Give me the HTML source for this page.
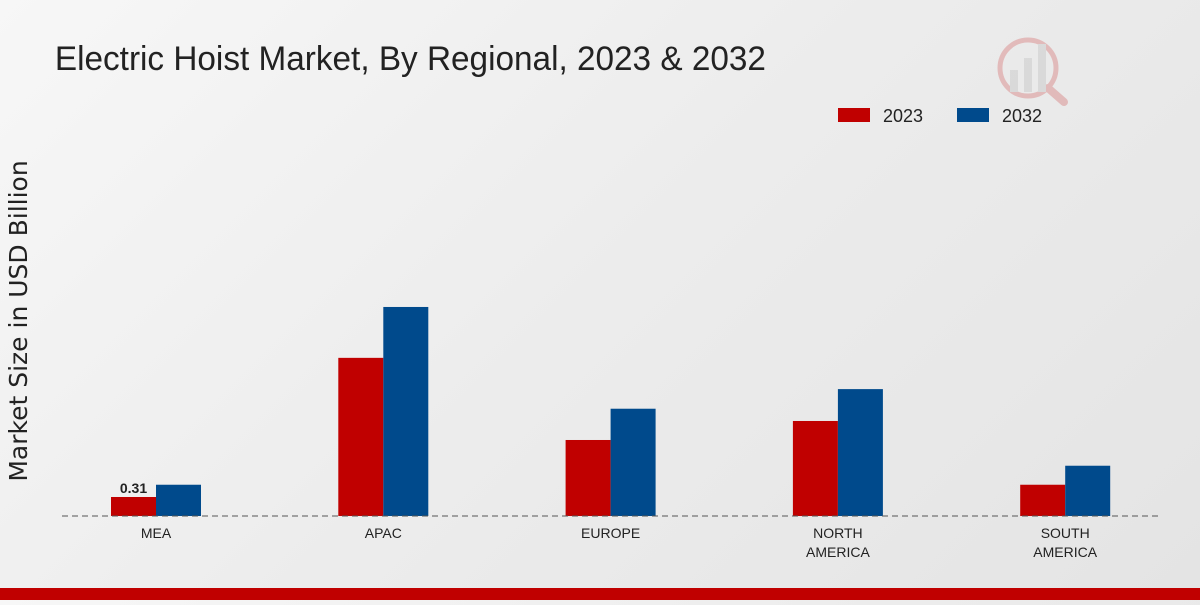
<!DOCTYPE html>
<html><head><meta charset="utf-8">
<style>
html,body{margin:0;padding:0;}
body{width:1200px;height:600px;overflow:hidden;background:linear-gradient(135deg,#f7f7f7 0%,#ececec 50%,#e4e4e4 100%);font-family:"Liberation Sans",sans-serif;}
</style></head>
<body>
<svg id="chart" width="1200" height="600" xmlns="http://www.w3.org/2000/svg">
  <text x="56" y="70" font-size="34" fill="#222" transform="scale(0.98,1)" style="font-family:'Liberation Sans',sans-serif">Electric Hoist Market, By Regional, 2023 &amp; 2032</text>
  <text transform="translate(27,321) rotate(-90)" text-anchor="middle" font-size="25" fill="#222" style="font-family:'DejaVu Sans',sans-serif">Market Size in USD Billion</text>
  <g>
    <g>
      <rect x="838" y="108" width="32" height="14" fill="#c00000"/>
      <text x="883" y="122" font-size="18" fill="#222">2023</text>
    </g>
    <g>
      <rect x="957" y="108" width="32" height="14" fill="#004a8c"/>
      <text x="1002" y="122" font-size="18" fill="#222">2032</text>
    </g>
  </g>
  <g id="bars"></g>
  <line x1="62" y1="516" x2="1160" y2="516" stroke="#555" stroke-width="1" stroke-dasharray="6,4"/>
  <g id="xlabels"></g>
  <g opacity="0.2">
    <circle cx="1028" cy="68" r="28" fill="none" stroke="#c00000" stroke-width="5"/>
    <line x1="1048" y1="88" x2="1064" y2="102" stroke="#c00000" stroke-width="8" stroke-linecap="round"/>
    <rect x="1010" y="70" width="8" height="22" fill="#999"/>
    <rect x="1024" y="58" width="8" height="34" fill="#999"/>
    <rect x="1038" y="44" width="8" height="48" fill="#999"/>
  </g>
  <rect x="0" y="588" width="1200" height="12" fill="#c00000"/>
</svg>
<script>
const categories = ["MEA","APAC","EUROPE","NORTH\nAMERICA","SOUTH\nAMERICA"];
const values2023 = [0.31,2.58,1.24,1.55,0.51];
const values2032 = [0.51,3.41,1.75,2.07,0.82];
const labeledValue = "0.31";

const baseY = 516, pxPerUnit = 61.3, x0 = 156, step = 227.3, bw = 45;
const yScale = v => baseY - v * pxPerUnit;
const xCenter = i => x0 + i * step;
const NS = "http://www.w3.org/2000/svg";
const bars = document.getElementById("bars");
const xl = document.getElementById("xlabels");

categories.forEach((c, i) => {
  const cx = xCenter(i);
  const r = document.createElementNS(NS, "rect");
  r.setAttribute("x", cx - bw); r.setAttribute("width", bw);
  r.setAttribute("y", yScale(values2023[i])); r.setAttribute("height", baseY - yScale(values2023[i]));
  r.setAttribute("fill", "#c00000");
  
  
  bars.appendChild(r);
  const b = document.createElementNS(NS, "rect");
  b.setAttribute("x", cx); b.setAttribute("width", bw);
  b.setAttribute("y", yScale(values2032[i])); b.setAttribute("height", baseY - yScale(values2032[i]));
  b.setAttribute("fill", "#004a8c");
  
  
  bars.appendChild(b);
  const t = document.createElementNS(NS, "text");
  t.setAttribute("text-anchor", "middle"); t.setAttribute("font-size", "14"); t.setAttribute("fill", "#222");
  c.split("\n").forEach((line, k) => {
    const ts = document.createElementNS(NS, "tspan");
    ts.setAttribute("x", cx); ts.setAttribute("y", 538 + k * 19);
    ts.textContent = line;
    t.appendChild(ts);
  });
  
  
  xl.appendChild(t);
});
const lbl = document.createElementNS(NS, "text");
lbl.setAttribute("x", xCenter(0) - bw / 2); lbl.setAttribute("y", yScale(values2023[0]) - 4);
lbl.setAttribute("text-anchor", "middle"); lbl.setAttribute("font-size", "14"); lbl.setAttribute("font-weight", "bold"); lbl.setAttribute("fill", "#222");
lbl.textContent = labeledValue;


bars.appendChild(lbl);
</script>
</body></html>
